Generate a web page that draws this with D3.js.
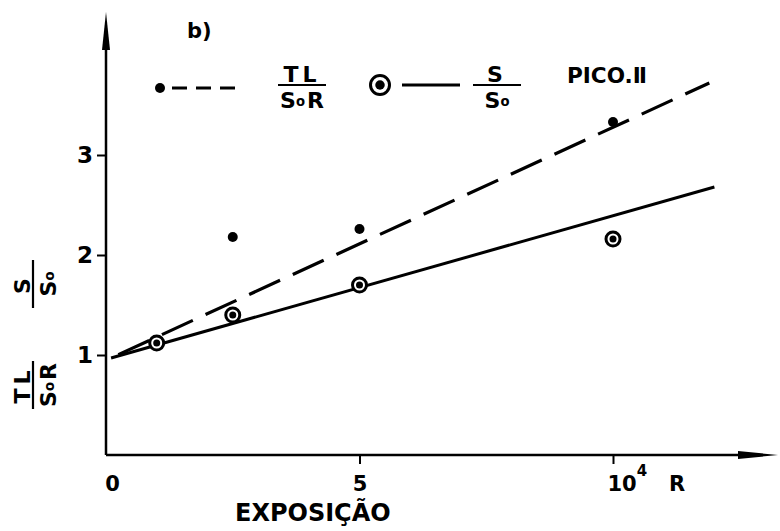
<!DOCTYPE html>
<html>
<head>
<meta charset="utf-8">
<script src="https://cdn.jsdelivr.net/npm/d3@7"></script>
<style>
  body{margin:0;background:#fff;}
  svg{display:block;}
  text{font-family:"DejaVu Sans",sans-serif;font-weight:bold;fill:#000;}
</style>
</head>
<body>
<svg id="chart"></svg>
<script>
// data (exposure in units of 10^4 R)
const xTicks = [0, 5, 10];
const yTicks = [1, 2, 3];
const tlX = [2.5, 5, 10];
const tlY = [2.18, 2.26, 3.33];
const sX = [1, 2.5, 5, 10];
const sY = [1.12, 1.40, 1.70, 2.16];
const tlFit = [[0.1, 0.97], [11.9, 3.72]];
const sFit = [[0.1, 0.97], [12.0, 2.68]];

const width = 780, height = 531;
const svg = d3.select("#chart").attr("width", width).attr("height", height);

const x = d3.scaleLinear().domain([0, 10]).range([106, 613]);
const y = d3.scaleLinear().domain([0, 3]).range([455, 155]);

// axes with arrows
svg.append("line")
  .attr("x1", x(0)).attr("y1", y(0)).attr("x2", 745).attr("y2", y(0))
  .attr("stroke", "#000").attr("stroke-width", 2.5);
svg.append("path")
  .attr("d", `M778,${y(0)} L738,${y(0) - 4} L738,${y(0) + 4} Z`)
  .attr("fill", "#000");
svg.append("line")
  .attr("x1", x(0)).attr("y1", y(0)).attr("x2", x(0)).attr("y2", 45)
  .attr("stroke", "#000").attr("stroke-width", 2.5);
svg.append("path")
  .attr("d", `M${x(0)},12 L${x(0) - 4},50 L${x(0) + 4},50 Z`)
  .attr("fill", "#000");

const xAxis = d3.axisBottom(x).tickValues(xTicks).tickSize(9).tickSizeOuter(0)
  .tickFormat(d => d == 10 ? "" : d);
const xg = svg.append("g").attr("transform", `translate(0,${y(0)})`).call(xAxis);
xg.select(".domain").remove();
xg.selectAll(".tick line").attr("stroke", "#000").attr("stroke-width", 2);
xg.selectAll(".tick").filter(d => d == 0).select("line").remove();
xg.selectAll(".tick text")
  .attr("y", 36).attr("dy", null)
  .attr("font-size", 21).attr("font-family", null)
  .attr("dx", d => d == 0 ? 6 : 0);
// 10^4 R label
const tenTick = xg.selectAll(".tick").filter(d => d == 10).select("text")
  .attr("text-anchor", "start").attr("dx", -6);
tenTick.append("tspan").text("10");
tenTick.append("tspan").attr("font-size", 15).attr("dy", -15).text("4");
svg.append("text").attr("x", 669).attr("y", y(0) + 36)
  .attr("font-size", 21).text("R");

const yAxis = d3.axisLeft(y).tickValues(yTicks).tickSize(9).tickSizeOuter(0)
  .tickFormat(d3.format("d"));
const yg = svg.append("g").attr("transform", `translate(${x(0)},0)`).call(yAxis);
yg.select(".domain").remove();
yg.selectAll(".tick line").attr("stroke", "#000").attr("stroke-width", 2);
yg.selectAll(".tick text")
  .attr("x", -13).attr("font-size", 23).attr("font-family", null);

// axis title
svg.append("text").attr("x", 235).attr("y", 521)
  .attr("font-size", 24).text("EXPOSIÇÃO");

svg.append("text").attr("x", 187).attr("y", 38)
  .attr("font-size", 21).text("b)");

// fitted lines
const line = d3.line().x(d => x(d[0])).y(d => y(d[1]));
svg.append("path").datum(tlFit).attr("d", line)
  .attr("fill", "none").attr("stroke", "#000").attr("stroke-width", 3.2)
  .attr("stroke-dasharray", "34,14").attr("stroke-dashoffset", -8);
svg.append("path").datum(sFit).attr("d", line)
  .attr("fill", "none").attr("stroke", "#000").attr("stroke-width", 3);

// markers
svg.selectAll("circle.tl").data(tlX).enter().append("circle")
  .attr("class", "tl")
  .attr("cx", d => x(d)).attr("cy", (d, i) => y(tlY[i]))
  .attr("r", 5).attr("fill", "#000");

function ringed(g, cx, cy, r) {
  g.append("circle").attr("cx", cx).attr("cy", cy).attr("r", r)
    .attr("fill", "#fff").attr("stroke", "#000").attr("stroke-width", 3);
  g.append("circle").attr("cx", cx).attr("cy", cy).attr("r", r * 0.5)
    .attr("fill", "#000");
}
sX.forEach((d, i) => ringed(svg, x(d), y(sY[i]), 7));

// fraction label helper
function fraction(g, num, den, cx, barY, w, size) {
  const t = g.append("g");
  t.append("text").attr("x", cx).attr("y", barY - 3)
    .attr("text-anchor", "middle").attr("font-size", size)
    .attr("letter-spacing", 4).text(num);
  t.append("line").attr("x1", cx - w / 2).attr("x2", cx + w / 2)
    .attr("y1", barY).attr("y2", barY)
    .attr("stroke", "#000").attr("stroke-width", 2.2);
  const dt = t.append("text").attr("x", cx).attr("y", barY + size + 0.5)
    .attr("text-anchor", "middle").attr("font-size", size);
  dt.append("tspan").text("S");
  dt.append("tspan").attr("font-size", size * 0.6).attr("dy", -2).text("o");
  if (den.length > 2) dt.append("tspan").attr("dy", 2).attr("dx", 2).text(den.slice(2));
  return t;
}

// legend
svg.append("circle").attr("cx", 160).attr("cy", 88).attr("r", 5).attr("fill", "#000");
svg.append("line").attr("x1", 172).attr("x2", 238).attr("y1", 88).attr("y2", 88)
  .attr("stroke", "#000").attr("stroke-width", 3).attr("stroke-dasharray", "15,9");
fraction(svg, "TL", "SoR", 302, 85, 48, 22);
ringed(svg, 380, 85, 9.5);
svg.append("line").attr("x1", 402).attr("x2", 460).attr("y1", 85).attr("y2", 85)
  .attr("stroke", "#000").attr("stroke-width", 3);
fraction(svg, "S", "So", 497, 85, 48, 22);
svg.append("text").attr("x", 567).attr("y", 83).attr("font-size", 22)
  .attr("textLength", 80).attr("lengthAdjust", "spacingAndGlyphs").text("PICO.Ⅱ");

// y axis titles (rotated)
const ys = svg.append("g").attr("transform", "translate(33,284) rotate(-90)");
fraction(ys, "S", "So", 0, 0, 48, 22);
const yt = svg.append("g").attr("transform", "translate(33,385) rotate(-90)");
fraction(yt, "TL", "SoR", 0, 0, 48, 22);
</script>
</body>
</html>
